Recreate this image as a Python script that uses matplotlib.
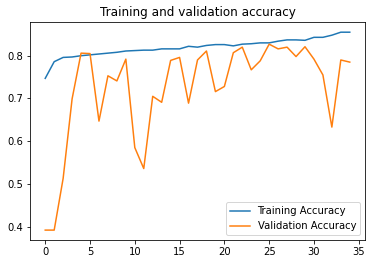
import matplotlib
matplotlib.use("Agg")
import matplotlib.pyplot as plt

# Per-epoch accuracy
epochs = list(range(35))
train_acc = [0.747, 0.786, 0.796, 0.797, 0.800, 0.802, 0.804, 0.806, 0.808, 0.811,
             0.812, 0.813, 0.813, 0.816, 0.816, 0.816, 0.822, 0.820, 0.824, 0.826,
             0.826, 0.823, 0.827, 0.828, 0.830, 0.830, 0.834, 0.837, 0.837, 0.836,
             0.843, 0.843, 0.848, 0.855, 0.855]
val_acc = [0.392, 0.392, 0.513, 0.699, 0.806, 0.805, 0.647, 0.753, 0.741, 0.792,
           0.585, 0.536, 0.705, 0.691, 0.789, 0.796, 0.689, 0.790, 0.811, 0.716,
           0.728, 0.807, 0.820, 0.767, 0.788, 0.827, 0.816, 0.820, 0.798, 0.821,
           0.792, 0.755, 0.633, 0.790, 0.785]

fig = plt.figure(figsize=(372 / 72, 264 / 72), dpi=72)
ax = fig.add_axes([30 / 372, 24 / 264, 335 / 372, 217.7 / 264])

ax.plot(epochs, train_acc, label='Training Accuracy')
ax.plot(epochs, val_acc, label='Validation Accuracy')
ax.legend(loc='lower right')
ax.set_title('Training and validation accuracy')

fig.savefig('out.png', dpi=72, facecolor='white')
